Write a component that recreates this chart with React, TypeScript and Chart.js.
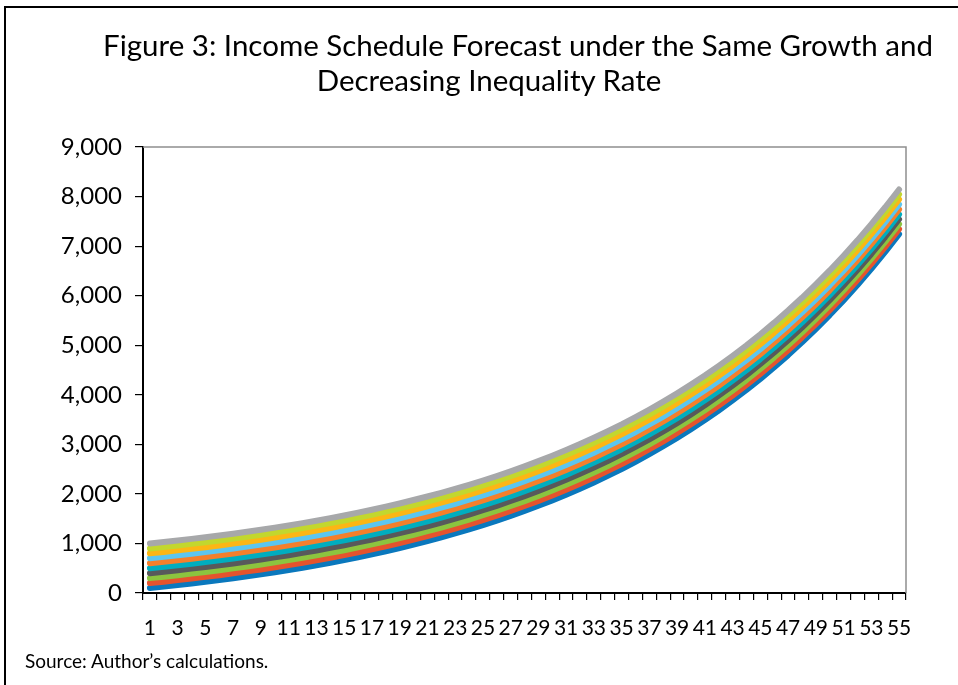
import React, { useEffect, useRef } from "react";
import { Chart, registerables } from "chart.js";

Chart.register(...registerables);

const periods = [
  "1", "2", "3", "4", "5", "6", "7", "8", "9", "10", "11", "12", "13", "14", "15", "16", "17", "18", "19", "20",
  "21", "22", "23", "24", "25", "26", "27", "28", "29", "30", "31", "32", "33", "34", "35", "36", "37", "38", "39", "40",
  "41", "42", "43", "44", "45", "46", "47", "48", "49", "50", "51", "52", "53", "54", "55",
];

const decile1 = [100,129,160,192,225,260,297,336,376,419,463,510,559,611,664,721,780,842,907,976,1047,1122,1201,1283,1370,1460,1556,1655,1760,1869,1984,2105,2231,2364,2502,2648,2801,2961,3129,3305,3489,3683,3886,4098,4321,4555,4800,5057,5327,5609,5906,6216,6542,6884,7242];
const decile2 = [200,229,260,292,325,360,397,436,476,519,563,610,659,711,764,821,880,942,1007,1076,1147,1222,1301,1383,1470,1560,1656,1755,1860,1969,2084,2205,2331,2464,2602,2748,2901,3061,3229,3405,3589,3783,3986,4198,4421,4655,4900,5157,5427,5709,6006,6316,6642,6984,7342];
const decile3 = [300,329,360,392,425,460,497,536,576,619,663,710,759,811,864,921,980,1042,1107,1176,1247,1322,1401,1483,1570,1660,1756,1855,1960,2069,2184,2305,2431,2564,2702,2848,3001,3161,3329,3505,3689,3883,4086,4298,4521,4755,5000,5257,5527,5809,6106,6416,6742,7084,7442];
const decile4 = [400,429,460,492,525,560,597,636,676,719,763,810,859,911,964,1021,1080,1142,1207,1276,1347,1422,1501,1583,1670,1760,1856,1955,2060,2169,2284,2405,2531,2664,2802,2948,3101,3261,3429,3605,3789,3983,4186,4398,4621,4855,5100,5357,5627,5909,6206,6516,6842,7184,7542];
const decile5 = [500,529,560,592,625,660,697,736,776,819,863,910,959,1011,1064,1121,1180,1242,1307,1376,1447,1522,1601,1683,1770,1860,1956,2055,2160,2269,2384,2505,2631,2764,2902,3048,3201,3361,3529,3705,3889,4083,4286,4498,4721,4955,5200,5457,5727,6009,6306,6616,6942,7284,7642];
const decile6 = [600,629,660,692,725,760,797,836,876,919,963,1010,1059,1111,1164,1221,1280,1342,1407,1476,1547,1622,1701,1783,1870,1960,2056,2155,2260,2369,2484,2605,2731,2864,3002,3148,3301,3461,3629,3805,3989,4183,4386,4598,4821,5055,5300,5557,5827,6109,6406,6716,7042,7384,7742];
const decile7 = [700,729,760,792,825,860,897,936,976,1019,1063,1110,1159,1211,1264,1321,1380,1442,1507,1576,1647,1722,1801,1883,1970,2060,2156,2255,2360,2469,2584,2705,2831,2964,3102,3248,3401,3561,3729,3905,4089,4283,4486,4698,4921,5155,5400,5657,5927,6209,6506,6816,7142,7484,7842];
const decile8 = [800,829,860,892,925,960,997,1036,1076,1119,1163,1210,1259,1311,1364,1421,1480,1542,1607,1676,1747,1822,1901,1983,2070,2160,2256,2355,2460,2569,2684,2805,2931,3064,3202,3348,3501,3661,3829,4005,4189,4383,4586,4798,5021,5255,5500,5757,6027,6309,6606,6916,7242,7584,7942];
const decile9 = [900,929,960,992,1025,1060,1097,1136,1176,1219,1263,1310,1359,1411,1464,1521,1580,1642,1707,1776,1847,1922,2001,2083,2170,2260,2356,2455,2560,2669,2784,2905,3031,3164,3302,3448,3601,3761,3929,4105,4289,4483,4686,4898,5121,5355,5600,5857,6127,6409,6706,7016,7342,7684,8042];
const decile10 = [1000,1029,1060,1092,1125,1160,1197,1236,1276,1319,1363,1410,1459,1511,1564,1621,1680,1742,1807,1876,1947,2022,2101,2183,2270,2360,2456,2555,2660,2769,2884,3005,3131,3264,3402,3548,3701,3861,4029,4205,4389,4583,4786,4998,5221,5455,5700,5957,6227,6509,6806,7116,7442,7784,8142];

const seriesNames = ["Decile 1", "Decile 2", "Decile 3", "Decile 4", "Decile 5", "Decile 6", "Decile 7", "Decile 8", "Decile 9", "Decile 10"];
const seriesValues = [decile1, decile2, decile3, decile4, decile5, decile6, decile7, decile8, decile9, decile10];
const seriesColors = ["#0a78bd", "#e5532d", "#8cc43f", "#58595b", "#00adbf", "#f47f2b", "#5cc6ef", "#fcb615", "#c2d72e", "#a7a8aa"];

const yMin = 0;
const yMax = 9000;
const yStep = 1000;

const FONT = "Lato, 'Open Sans', sans-serif";

export default function App() {
  const canvasRef = useRef<HTMLCanvasElement | null>(null);

  useEffect(() => {
    const canvas = canvasRef.current;
    if (!canvas) return;

    const frame = {
      id: "plotFrame",
      afterDatasetsDraw(chart: any) {
        const { ctx, chartArea } = chart;
        ctx.save();
        ctx.strokeStyle = "#8f8f8f";
        ctx.lineWidth = 1.5;
        ctx.beginPath();
        ctx.moveTo(chartArea.left, chartArea.top);
        ctx.lineTo(chartArea.right, chartArea.top);
        ctx.lineTo(chartArea.right, chartArea.bottom);
        ctx.stroke();
        ctx.restore();
      },
    };

    const chart = new Chart(canvas, {
      type: "line",
      data: {
        labels: periods,
        datasets: seriesNames.map((name, i) => ({
          label: name,
          data: seriesValues[i],
          borderColor: seriesColors[i],
          backgroundColor: seriesColors[i],
          borderWidth: 6,
          borderCapStyle: "round" as const,
          borderJoinStyle: "round" as const,
          pointRadius: 0,
          pointHoverRadius: 0,
          tension: 0,
          fill: false,
          order: seriesNames.length - i,
        })),
      },
      options: {
        responsive: false,
        animation: false,
        devicePixelRatio: 1,
        layout: { padding: { top: 147, right: 52, left: 0, bottom: 0 } },
        plugins: {
          legend: { display: false },
          title: { display: false },
          tooltip: { enabled: false },
        },
        scales: {
          x: {
            type: "category",
            offset: true,
            grid: {
              display: true,
              offset: true,
              drawOnChartArea: false,
              drawTicks: true,
              tickLength: 7,
              color: "#000",
              lineWidth: 1.2,
            },
            border: { display: true, color: "#000", width: 2 },
            ticks: {
              autoSkip: false,
              maxRotation: 0,
              minRotation: 0,
              padding: 16,
              color: "#000",
              font: { family: FONT, size: 21 },
              callback: (_v: any, i: number) => (i % 2 === 0 ? periods[i] : ""),
            },
            afterFit: (s: any) => {
              s.height = 92;
            },
          },
          y: {
            min: yMin,
            max: yMax,
            grid: {
              display: true,
              drawOnChartArea: false,
              drawTicks: true,
              tickLength: 8,
              color: "#000",
              lineWidth: 1.2,
            },
            border: { display: true, color: "#000", width: 2 },
            ticks: {
              stepSize: yStep,
              padding: 13,
              color: "#000",
              font: { family: FONT, size: 24 },
              callback: (v: any) => Number(v).toLocaleString("en-US"),
            },
            afterFit: (s: any) => {
              s.width = 143;
            },
          },
        },
      },
      plugins: [frame],
    });

    return () => chart.destroy();
  }, []);

  const titleStyle: React.CSSProperties = {
    position: "absolute",
    whiteSpace: "nowrap",
    transform: "translateX(-50%)",
    fontFamily: FONT,
    fontSize: 29.5,
    lineHeight: "36px",
    color: "#000",
    margin: 0,
  };

  return (
    <div style={{ position: "absolute", left: 0, top: 0, width: 958, height: 685, overflow: "hidden", background: "#fff" }}>
      <canvas ref={canvasRef} width={958} height={685} style={{ position: "absolute", left: 0, top: 0, width: 958, height: 685 }} />
      <div
        style={{
          position: "absolute",
          left: 4,
          top: 6,
          width: 958,
          height: 685,
          borderLeft: "2px solid #000",
          borderTop: "2px solid #000",
          pointerEvents: "none",
        }}
      />
      <div style={{ ...titleStyle, left: 518, top: 27 }}>
        Figure 3: Income Schedule Forecast under the Same Growth and
      </div>
      <div style={{ ...titleStyle, left: 489, top: 62 }}>Decreasing Inequality Rate</div>
      <div
        style={{
          position: "absolute",
          left: 25,
          top: 649,
          whiteSpace: "nowrap",
          fontFamily: FONT,
          fontSize: 19,
          lineHeight: "24px",
          color: "#000",
        }}
      >
        Source: Author’s calculations.
      </div>
    </div>
  );
}
